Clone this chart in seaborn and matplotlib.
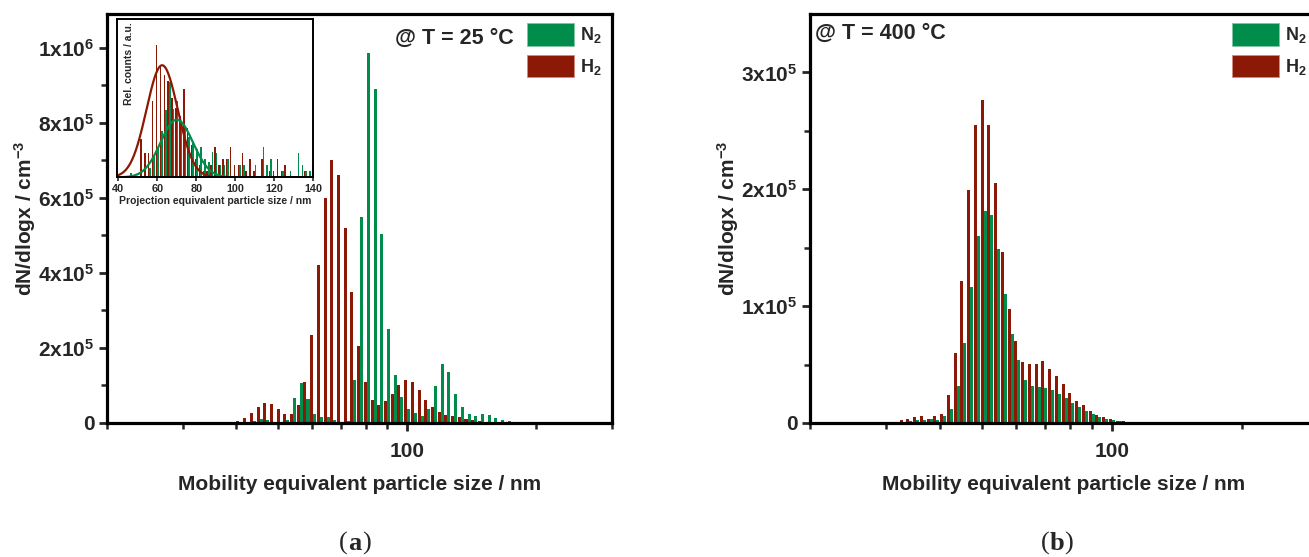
import numpy as np
import pandas as pd
import matplotlib
matplotlib.use("Agg")
import matplotlib.pyplot as plt
import seaborn as sns
from matplotlib.patches import Patch
from matplotlib import font_manager

# ---------------- data ----------------
# SMPS channel mid-points (nm), 64 channels per decade
size_a = [37.855, 39.241, 40.679, 42.169, 43.714, 45.315, 46.975, 48.696, 50.480,
          52.329, 54.246, 56.233, 58.293, 60.428, 62.642, 64.937, 67.315, 69.781,
          72.337, 74.989, 77.735, 80.582, 83.534, 86.594, 89.766, 93.054, 96.463,
          100.0, 103.663, 107.461, 111.397, 115.478, 119.709, 124.094, 128.640,
          133.352, 138.237, 143.301, 148.551, 153.993, 159.634, 165.482, 171.544,
          177.828, 184.342]
h2_a = [1800, 3500, 6200, 12400, 25700, 41700, 52300, 50500, 38100,
        24800, 24800, 47000, 110000, 235000, 420000, 599000, 700000, 660000,
        520000, 350000, 204000, 110000, 62000, 47000, 57600, 76000, 102000,
        113500, 110000, 86900, 60300, 41700, 28400, 21300, 18600,
        16000, 11500, 7100, 4400, 1800, 900, 500, 0,
        0, 0]
n2_a = [0, 0, 0, 0, 6200, 11500, 8000, 2000, 1000,
        8000, 65600, 105500, 63800, 24800, 15000, 15000, 7000, 3500,
        6200, 115000, 549000, 985000, 889000, 505000, 250000, 127000, 68000,
        38000, 25700, 18600, 36400, 98400, 156000, 136500, 77000,
        41700, 23000, 18600, 23000, 21300, 14200, 8000, 4400,
        3500, 1800]

size_b = [31.623, 32.781, 33.982, 35.227, 36.517, 37.855, 39.241, 40.679, 42.169,
          43.714, 45.315, 46.975, 48.696, 50.480, 52.329, 54.246, 56.233, 58.293,
          60.428, 62.642, 64.937, 67.315, 69.781, 72.337, 74.989, 77.735, 80.582,
          83.534, 86.594, 89.766, 93.054, 96.463, 100.0, 103.663, 107.461, 111.397,
          115.478]
h2_b = [850, 2300, 3700, 5100, 5700, 3700, 5700, 8000, 24200,
        60100, 121400, 199400, 255000, 276600, 255000, 205400, 146000, 97700,
        70100, 52400, 50100, 50100, 53000, 45900, 39900, 33600, 25600,
        18800, 15100, 10300, 7100, 5400, 3100, 2000, 1400, 600,
        300]
n2_b = [0, 850, 1400, 2300, 2800, 3700, 2300, 5700, 12300,
        31300, 68700, 116200, 160000, 181000, 178000, 149000, 110500, 76400,
        53600, 37000, 31300, 30800, 30200, 28500, 24500, 21700, 17100,
        13400, 10000, 7700, 5400, 3700, 2600, 1700, 850, 600,
        300]

# inset: projection equivalent particle size histogram (2 nm bins)
inset_size = [46, 48, 50, 52, 54, 56, 58, 60, 62, 64, 66, 68, 70, 72, 74, 76,
              78, 80, 82, 84, 86, 88, 90, 92, 94, 96, 98, 100, 102, 104, 106, 108,
              110, 112, 114, 116, 118, 120, 122, 124, 126, 128, 130, 132, 134, 136, 138, 140]
inset_h2 = [0, 0, 0, 6.2, 4, 4, 12.4, 21.6, 18, 16.7, 15.8, 13, 11.3, 10, 14.5, 8,
            5.3, 3, 2, 1, 1, 2, 5, 2, 3, 3, 5, 2, 2, 4, 1, 3,
            1, 0, 3, 0, 1, 1, 3, 1, 2, 0, 0, 0, 0, 1, 0, 2]
inset_n2 = [0.7, 0, 0, 0, 0, 1.6, 3.5, 5, 7.6, 11, 15.5, 11.2, 12.5, 9, 7.9, 6.6,
            5.7, 4.6, 5, 3, 2.5, 4.1, 4, 2, 2, 3, 0, 0, 2, 2, 0, 0,
            2, 0, 5, 2, 3, 0, 0, 1, 0, 1, 0, 4, 2, 1, 1, 0]
# Gaussian fits of inset: (amplitude, centre nm, sigma nm)
fit_h2 = (18.3, 62.5, 8.0)
fit_n2 = (9.4, 70.0, 8.3)

yticks_a = [0, 2e5, 4e5, 6e5, 8e5, 1e6]
yticklabels_a = ["0", "2x10$^{5}$", "4x10$^{5}$", "6x10$^{5}$", "8x10$^{5}$", "1x10$^{6}$"]
yticks_b = [0, 1e5, 2e5, 3e5]
yticklabels_b = ["0", "1x10$^{5}$", "2x10$^{5}$", "3x10$^{5}$"]
inset_xticks = [40, 60, 80, 100, 120, 140]

GAS_N2 = "N$_2$"
GAS_H2 = "H$_2$"
GREEN = "#008C4B"
RED = "#8C1905"

# ---------------- style ----------------
sns.set_theme(style="ticks")
plt.rcParams["font.family"] = ["Liberation Sans", "DejaVu Sans"]
plt.rcParams["font.weight"] = "bold"
plt.rcParams["axes.labelweight"] = "bold"
plt.rcParams["mathtext.fontset"] = "custom"
plt.rcParams["mathtext.rm"] = "Liberation Sans:bold"
plt.rcParams["mathtext.bf"] = "Liberation Sans:bold"
plt.rcParams["mathtext.it"] = "Liberation Sans:bold"
plt.rcParams["mathtext.default"] = "bf"

_names = {f.name for f in font_manager.fontManager.ttflist}
NARROW = "Liberation Sans Narrow" if "Liberation Sans Narrow" in _names else "Liberation Sans"

FS = 15

fig = plt.figure(figsize=(13.09, 5.57), dpi=100)
W, H = 1309, 557
axA = fig.add_axes([107 / W, (H - 423) / H, 505 / W, 409 / H])
axB = fig.add_axes([810 / W, (H - 423) / H, 508 / W, 409 / H])


def smps_panel(ax, sizes, h2, n2, ylim, yticks, yticklabels, minor_step, leg_x):
    n = len(sizes)
    df = pd.DataFrame({
        "size": list(sizes) * 2,
        "dN": list(h2) + list(n2),
        "gas": [GAS_H2] * n + [GAS_N2] * n,
    })
    logd = np.log10(sizes)
    half = (logd[1] - logd[0]) / 2
    edges = np.concatenate([[logd[0] - half], (logd[:-1] + logd[1:]) / 2, [logd[-1] + half]])
    sns.histplot(data=df, x="size", weights="dN", hue="gas",
                 hue_order=[GAS_H2, GAS_N2],
                 palette={GAS_H2: RED, GAS_N2: GREEN},
                 multiple="dodge", log_scale=True, bins=[float(e) for e in edges],
                 shrink=0.9, alpha=1, linewidth=0, legend=False, ax=ax)
    ax.set_xlim(20, 300)
    ax.set_ylim(0, ylim)
    ax.set_xticks([100])
    ax.set_xticklabels(["100"])
    ax.set_xticks([20, 30, 40, 50, 60, 70, 80, 90, 200, 300], minor=True)
    ax.set_xticklabels([], minor=True)
    ax.set_yticks(yticks)
    ax.set_yticklabels(yticklabels)
    ax.set_yticks(np.arange(0, ylim, minor_step), minor=True)
    ax.tick_params(axis="both", which="major", direction="out", length=6, width=2,
                   labelsize=FS, pad=3)
    ax.tick_params(axis="x", which="major", pad=8)
    ax.tick_params(axis="both", which="minor", direction="out", length=4, width=1.8)
    for sp in ax.spines.values():
        sp.set_visible(True)
        sp.set_linewidth(2.3)
        sp.set_color("black")
    ax.set_xlabel("Mobility equivalent particle size / nm", fontsize=FS, labelpad=10)
    ax.set_ylabel("dN/dlogx / cm$^{-3}$", fontsize=FS, labelpad=0)
    ax.legend(handles=[Patch(facecolor=GREEN, edgecolor="#7fc6a4", lw=0.6, label=GAS_N2),
                       Patch(facecolor=RED, edgecolor="#d08a80", lw=0.6, label=GAS_H2)],
              loc="upper left", bbox_to_anchor=(leg_x, (423 - 23) / 409), frameon=False,
              prop={"size": 13, "weight": "bold", "family": NARROW},
              handlelength=2.6, handleheight=1.55, labelspacing=0.5,
              handletextpad=0.33, borderaxespad=0.0, borderpad=0.0)


smps_panel(axA, size_a, h2_a, n2_a, 1.09e6, yticks_a, yticklabels_a, 1e5, (527 - 107) / 505)
smps_panel(axB, size_b, h2_b, n2_b, 3.5e5, yticks_b, yticklabels_b, 0.5e5, (1232 - 810) / 508)

axA.text(0.806, 0.94, "@ T = 25 °C", transform=axA.transAxes, ha="right", va="center",
         fontsize=FS + 0.5, fontweight="bold")
axB.text(0.01, 0.953, "@ T = 400 °C", transform=axB.transAxes, ha="left", va="center",
         fontsize=FS + 0.5, fontweight="bold")

# ---------------- inset ----------------
axI = fig.add_axes([116.7 / W, (H - 177.3) / H, 196.6 / W, 158 / H])
ni = len(inset_size)
dfi = pd.DataFrame({
    "size": list(inset_size) * 2,
    "counts": list(inset_h2) + list(inset_n2),
    "gas": [GAS_H2] * ni + [GAS_N2] * ni,
})
sns.histplot(data=dfi, x="size", weights="counts", hue="gas",
             hue_order=[GAS_H2, GAS_N2], palette={GAS_H2: RED, GAS_N2: GREEN},
             multiple="dodge", binwidth=2, binrange=(45, 141), shrink=0.8,
             alpha=1, linewidth=0, legend=False, ax=axI)
xg = np.linspace(40, 140, 400)
for (amp, mu, sig), col in ((fit_h2, RED), (fit_n2, GREEN)):
    sns.lineplot(x=xg, y=amp * np.exp(-(xg - mu) ** 2 / (2 * sig ** 2)),
                 color=col, lw=1.6, ax=axI)
axI.set_xlim(39.2, 140)
axI.set_ylim(0, 25.8)
axI.set_yticks([])
axI.set_xticks(inset_xticks)
axI.set_xticklabels([str(v) for v in inset_xticks])
axI.tick_params(axis="x", direction="out", length=3, width=1.2, labelsize=7.8, pad=1.5)
for sp in axI.spines.values():
    sp.set_visible(True)
    sp.set_linewidth(1.4)
    sp.set_color("black")
axI.set_ylabel("")
axI.set_xlabel("Projection equivalent particle size / nm", fontsize=7.5, labelpad=2)
axI.text(0.035, 0.98, "Rel. counts / a.u.", transform=axI.transAxes, rotation=90,
         ha="left", va="top", fontsize=7.5, fontweight="bold")

# ---------------- panel captions ----------------
SERIF = ["Liberation Serif", "DejaVu Serif"]
for xc, letter in ((355, "a"), (1057, "b")):
    yc = (H - 543) / H
    fig.text(xc / W, yc, letter, ha="center", va="center", fontsize=19,
             family=SERIF, fontweight="bold")
    fig.text((xc - 7) / W, yc, "(", ha="right", va="center", fontsize=19,
             family=SERIF, fontweight="normal")
    fig.text((xc + 7) / W, yc, ")", ha="left", va="center", fontsize=19,
             family=SERIF, fontweight="normal")

fig.savefig("out.png", dpi=100)
